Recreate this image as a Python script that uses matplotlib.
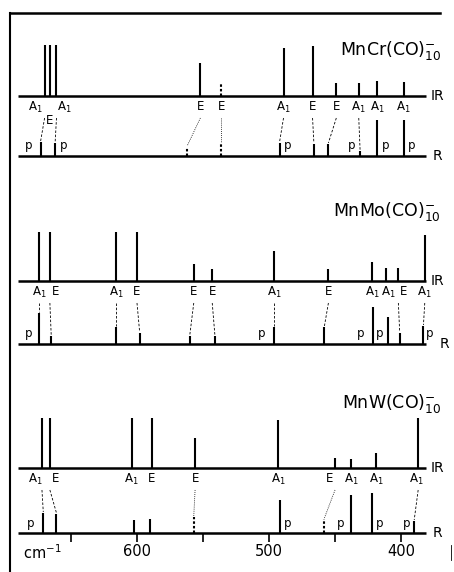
import matplotlib.pyplot as plt

# scan geometry: 600 cm-1 sits at x=137 px, 1.32 px per cm-1
W, H = 454, 572
X600, PX_PER_CM = 137, 1.32
UNIT = 50  # px per unit intensity

# MnCr(CO)10-
mncr_ir_nu = [670, 666, 661, 552, 536, 489, 467, 449, 432, 418, 398]
mncr_ir_int = [1.02, 1.02, 1.02, 0.66, 0.26, 0.96, 1.0, 0.26, 0.26, 0.30, 0.28]
mncr_ir_sym = ['A1', 'E', 'A1', 'E', 'E', 'A1', 'E', 'E', 'A1', 'A1', 'A1']
mncr_r_nu = [673, 662, 562, 536, 492, 466, 455, 431, 418, 398]
mncr_r_int = [0.28, 0.26, 0.18, 0.26, 0.26, 0.24, 0.24, 0.10, 0.72, 0.72]
mncr_pairs = [(0, 0), (2, 1), (3, 2), (4, 3), (5, 4), (6, 5), (7, 6), (8, 7)]
mncr_pol = [0, 1, 4, 7, 8, 9]

# MnMo(CO)10-
mnmo_ir_nu = [674, 666, 616, 600, 557, 543, 496, 455, 422, 411, 402, 382]
mnmo_ir_int = [0.98, 0.98, 0.98, 0.98, 0.34, 0.24, 0.60, 0.24, 0.38, 0.26, 0.26, 0.92]
mnmo_ir_sym = ['A1', 'E', 'A1', 'E', 'E', 'E', 'A1', 'E', 'A1', 'A1', 'E', 'A1']
mnmo_r_nu = [674, 665, 616, 598, 560, 541, 496, 458, 421, 410, 401, 383]
mnmo_r_int = [0.62, 0.16, 0.34, 0.22, 0.16, 0.16, 0.34, 0.34, 0.74, 0.54, 0.22, 0.36]
mnmo_pairs = [(0, 0), (1, 1), (2, 2), (3, 3), (4, 4), (5, 5), (6, 6), (7, 7), (10, 10), (11, 11)]
mnmo_pol = [0, 6, 8, 9, 11]

# MnW(CO)10-
mnw_ir_nu = [672, 666, 604, 589, 556, 493, 450, 438, 419, 387]
mnw_ir_int = [1.0, 1.0, 1.0, 1.0, 0.60, 0.96, 0.20, 0.18, 0.30, 1.0]
mnw_ir_sym = ['A1', 'E', 'A1', 'E', 'E', 'A1', 'E', 'A1', 'A1', 'A1']
mnw_r_nu = [671, 661, 602, 590, 557, 492, 458, 438, 422, 390]
mnw_r_int = [0.40, 0.38, 0.26, 0.28, 0.32, 0.66, 0.28, 0.76, 0.80, 0.24]
mnw_pairs = [(0, 0), (1, 1), (4, 4), (6, 6), (9, 9)]
mnw_pol = [0, 5, 7, 8, 9]

tick_nu = [650, 600, 550, 500, 450, 400]
tick_labels = ['600', '500', '400']

panels = [
    dict(title=r'MnCr(CO)$_{10}^{-}$', ir_nu=mncr_ir_nu, ir_int=mncr_ir_int, sym=mncr_ir_sym,
         r_nu=mncr_r_nu, r_int=mncr_r_int, pairs=mncr_pairs, pol=mncr_pol,
         ir_y=96, r_y=156, title_y=55, ir_dot=[4], r_dot=[2, 3],
         nudge={0: (-9, 0), 1: (0, 14), 2: (8, 0)},
         pol_dx=[-12, 8, 8, -8, 8, 8], r_lab_x=433),
    dict(title=r'MnMo(CO)$_{10}^{-}$', ir_nu=mnmo_ir_nu, ir_int=mnmo_ir_int, sym=mnmo_ir_sym,
         r_nu=mnmo_r_nu, r_int=mnmo_r_int, pairs=mnmo_pairs, pol=mnmo_pol,
         ir_y=281, r_y=344, title_y=216, ir_dot=[], r_dot=[],
         nudge={1: (6, 0), 9: (2, 0), 10: (5, 0)},
         pol_dx=[-11, -13, -13, -8, 6], r_lab_x=440),
    dict(title=r'MnW(CO)$_{10}^{-}$', ir_nu=mnw_ir_nu, ir_int=mnw_ir_int, sym=mnw_ir_sym,
         r_nu=mnw_r_nu, r_int=mnw_r_int, pairs=mnw_pairs, pol=mnw_pol,
         ir_y=468, r_y=533, title_y=408, ir_dot=[], r_dot=[4, 6],
         nudge={0: (-7, 0), 1: (6, 0), 6: (-5, 0), 9: (-2, 0)},
         pol_dx=[-13, 8, -10, 8, -8], r_lab_x=433),
]


def sym_text(s):
    return r'A$_1$' if s == 'A1' else s


fig = plt.figure(figsize=(W / 100, H / 100), dpi=100)
ax = fig.add_axes([0, 0, 1, 1])
ax.set_xlim(600 + X600 / PX_PER_CM, 600 - (W - X600) / PX_PER_CM)
ax.set_ylim(H, 0)
ax.axis('off')
xfrac = ax.get_yaxis_transform()
lo, hi = 690, 381

for p in panels:
    iy, ry = p['ir_y'], p['r_y']
    ax.hlines([iy, ry], lo, hi, color='k', lw=1.8)
    for i, (nu, a) in enumerate(zip(p['ir_nu'], p['ir_int'])):
        ls = (0, (1.2, 1)) if i in p['ir_dot'] else '-'
        ax.vlines(nu, iy, iy - a * UNIT, color='k', lw=1.5, linestyles=ls)
    for i, (nu, a) in enumerate(zip(p['r_nu'], p['r_int'])):
        ls = (0, (1.2, 1)) if i in p['r_dot'] else '-'
        ax.vlines(nu, ry, ry - a * UNIT, color='k', lw=1.5, linestyles=ls)

    # symmetry labels under the IR sticks
    for i, (nu, s) in enumerate(zip(p['ir_nu'], p['sym'])):
        dx, dy = p['nudge'].get(i, (0, 0))
        ax.annotate(sym_text(s), (nu, iy + 4), xytext=(dx, -dy), textcoords='offset pixels',
                    ha='center', va='top', fontsize=8.5)

    # IR -> Raman correlation lines
    for i, j in p['pairs']:
        dy = p['nudge'].get(i, (0, 0))[1]
        dotted = i in p['ir_dot'] or j in p['r_dot']
        ax.plot([p['ir_nu'][i], p['r_nu'][j]],
                [iy + 22 + dy, ry - p['r_int'][j] * UNIT - 1],
                color='k', lw=0.6, ls=(0, (1, 1.5)) if dotted else (0, (3, 2)))

    # polarised Raman bands
    for j, dx in zip(p['pol'], p['pol_dx']):
        ax.annotate('p', (p['r_nu'][j], ry), xytext=(dx, 10), textcoords='offset pixels',
                    ha='center', va='center', fontsize=8.5)

    ax.text(431 / W, iy, 'IR', transform=xfrac, ha='left', va='center', fontsize=10)
    ax.text(p['r_lab_x'] / W, ry, 'R', transform=xfrac, ha='left', va='center', fontsize=10)
    ax.text(441 / W, p['title_y'], p['title'], transform=xfrac, ha='right',
            va='baseline', fontsize=12.5)

# wavenumber axis under the last panel
base = panels[-1]['r_y']
ax.vlines(tick_nu, base, base + 9, color='k', lw=1.2)
for t in tick_labels:
    ax.text(int(t), 551, t, ha='center', va='center', fontsize=10.5)
ax.text(42 / W, 553, r'cm$^{-1}$', transform=xfrac, ha='center', va='center', fontsize=10.5)

# frame of the scanned figure
ax.plot([10 / W, 10 / W], [13, H], transform=xfrac, color='k', lw=1.5)
ax.plot([10 / W, 440 / W], [13, 13], transform=xfrac, color='k', lw=1.8)
ax.plot([451 / W, 451 / W], [545, 560], transform=xfrac, color='k', lw=0.6)

fig.savefig('out.png', dpi=100)
